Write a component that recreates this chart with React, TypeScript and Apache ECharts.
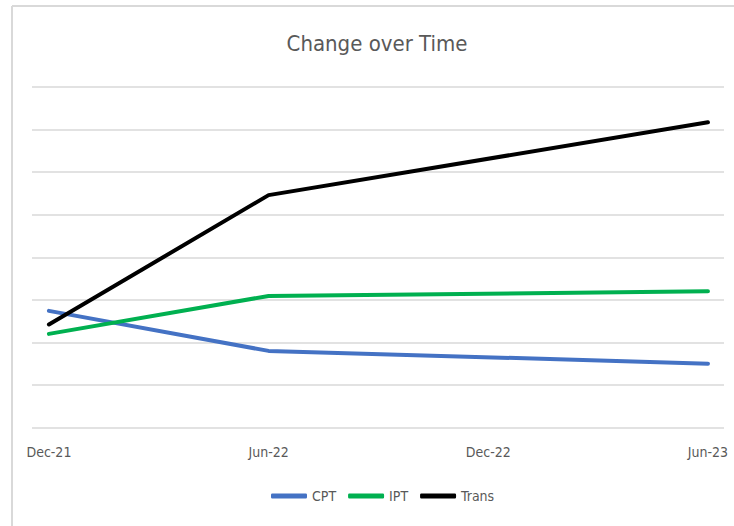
import React, { useEffect, useRef } from "react";
import * as echarts from "echarts";

const categories = ["Dec-21", "Jun-22", "Dec-22", "Jun-23"];
const cptValues: (number | null)[] = [2.74, 1.8, null, 1.5];
const iptValues: (number | null)[] = [2.2, 3.09, null, 3.2];
const transValues: (number | null)[] = [2.42, 5.46, null, 7.17];
const seriesNames = ["CPT", "IPT", "Trans"];
const seriesColors = ["#4472C4", "#00B050", "#000000"];
const chartTitle = "Change over Time";

const FONT = "'Liberation Sans Narrow', 'DejaVu Sans Condensed', Roboto, sans-serif";

function toPairs(vals: (number | null)[]) {
  const out: [number, number][] = [];
  vals.forEach((v, i) => {
    if (v !== null) out.push([i, v]);
  });
  return out;
}

export default function App() {
  const ref = useRef<HTMLDivElement>(null);
  useEffect(() => {
    if (!ref.current) return;
    const chart = echarts.init(ref.current, null, { renderer: "svg" });
    const allValues = [cptValues, iptValues, transValues];
    chart.setOption({
      animation: false,
      backgroundColor: "#ffffff",
      legend: {
        bottom: 18,
        left: 266,
        icon: "roundRect",
        itemWidth: 36,
        itemHeight: 5,
        itemGap: 12,
        textStyle: { fontFamily: FONT, fontSize: 14, color: "#595959" },
        data: seriesNames,
      },
      graphic: [
        {
          type: "line",
          shape: { x1: 12, y1: 6, x2: 734, y2: 6 },
          style: { stroke: "#d9d9d9", lineWidth: 2 },
        },
        {
          type: "line",
          shape: { x1: 12, y1: 6, x2: 12, y2: 526 },
          style: { stroke: "#d9d9d9", lineWidth: 2 },
        },
        {
          type: "text",
          x: 377,
          y: 43,
          style: {
            text: chartTitle,
            fontFamily: FONT,
            fontSize: 22,
            fill: "#595959",
            textAlign: "center",
            textVerticalAlign: "middle",
          },
        },
      ],
      grid: { left: 32, right: 10, top: 87, bottom: 98.5, containLabel: false },
      xAxis: {
        type: "value",
        min: -0.077,
        max: 3.073,
        axisLine: { show: false },
        axisTick: { show: false },
        splitLine: { show: false },
        axisLabel: {
          customValues: [0, 1, 2, 3],
          formatter: (v: number) => categories[Math.round(v)] ?? "",
          margin: 17,
          fontFamily: FONT,
          fontSize: 14,
          color: "#595959",
        },
      },
      yAxis: {
        type: "value",
        min: 0,
        max: 8,
        interval: 1,
        axisLine: { show: false },
        axisTick: { show: false },
        axisLabel: { show: false },
        splitLine: { lineStyle: { color: "#d9d9d9", width: 1.5 } },
      },
      series: seriesNames.map((name, i) => ({
        name,
        type: "line",
        data: toPairs(allValues[i]),
        showSymbol: false,
        symbol: "none",
        lineStyle: { color: seriesColors[i], width: 4, cap: "round" },
        itemStyle: { color: seriesColors[i] },
      })),
    });
    return () => chart.dispose();
  }, []);
  return (
    <div
      ref={ref}
      style={{ position: "fixed", left: 0, top: 0, width: 734, height: 526 }}
    />
  );
}
